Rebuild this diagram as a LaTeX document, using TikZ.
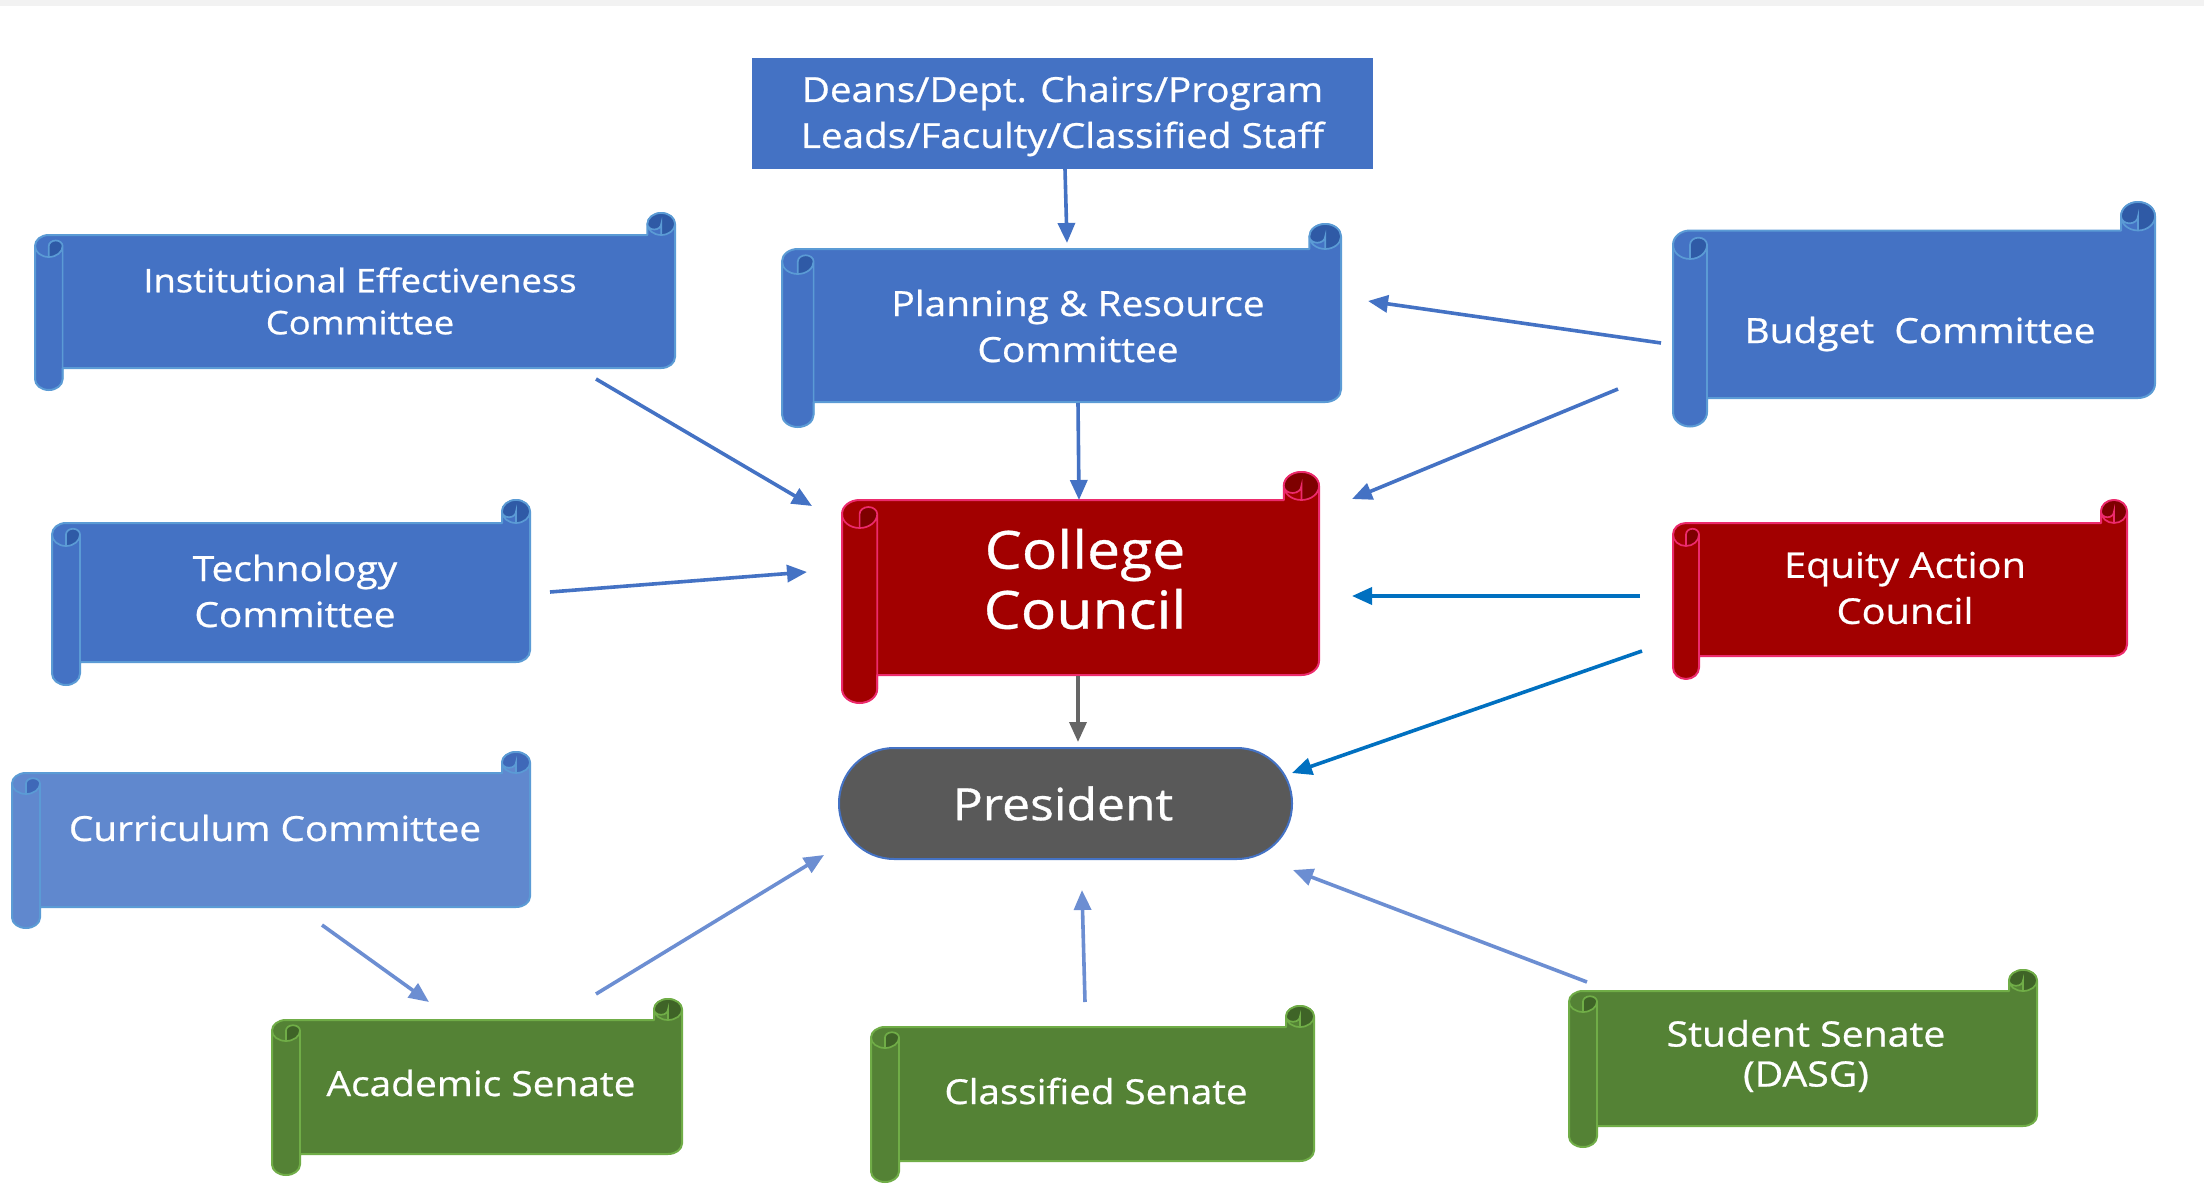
\documentclass[tikz,border=0pt]{standalone}
\usepackage{fontspec}
\setmainfont[FakeStretch=1.12,FakeBold=0.7]{Open Sans}
\usetikzlibrary{arrows.meta}
\definecolor{bf}{HTML}{4472C4}\definecolor{bl}{HTML}{5B9BD5}\definecolor{bd}{HTML}{2F5AA6}
\definecolor{lf}{HTML}{6088CE}\definecolor{ll}{HTML}{5B9BD5}\definecolor{ld}{HTML}{3F68B8}
\definecolor{rf}{HTML}{A20000}\definecolor{rl}{HTML}{EC2A6C}\definecolor{rd}{HTML}{7E0000}
\definecolor{gf}{HTML}{548235}\definecolor{gl}{HTML}{70AD47}\definecolor{gd}{HTML}{3F6427}
\definecolor{ar}{HTML}{4472C4}\definecolor{arb}{HTML}{0070C0}\definecolor{arl}{HTML}{6C8ED2}\definecolor{arg}{HTML}{666666}
\tikzset{
  lbl/.style={text=white,align=center,inner sep=0pt},
  link/.style={line width=3.6pt,draw=ar,-{Triangle[length=20pt,width=17pt]}},
  linkb/.style={link,draw=arb},
  linkl/.style={link,draw=arl},
  linkg/.style={link,draw=arg},
}
\newcommand\sz[2]{\fontsize{#1}{#2}\selectfont}
% x0 x1 yc yt yb rx fill line dark
\newcommand\scrollshape[9]{%
  \pgfmathsetmacro\rx{#6}\pgfmathsetmacro\ry{(#4-#3)/2}%
  \pgfmathsetmacro\xa{#1}\pgfmathsetmacro\xb{#1+\rx}\pgfmathsetmacro\xc{#1+2*\rx}%
  \pgfmathsetmacro\xz{#2}\pgfmathsetmacro\xy{#2-\rx}\pgfmathsetmacro\xw{#2-2*\rx}%
  \pgfmathsetmacro\yct{-(#3)-\ry}\pgfmathsetmacro\ytop{-(#4)}\pgfmathsetmacro\ytm{-(#4)-\ry}%
  \pgfmathsetmacro\ytb{-(#4)-2*\ry}\pgfmathsetmacro\ybm{-(#5)}\pgfmathsetmacro\ybu{-(#5)+\ry}%
  \pgfmathsetmacro\ybl{-(#5)-\ry}%
  \pgfmathsetmacro\hrx{\rx/2}\pgfmathsetmacro\hry{\ry/2}%
  \draw[line width=2pt,draw=#8,fill=#7,line join=round]
    (\xa,\ytm) arc[start angle=180,end angle=90,x radius=\rx pt,y radius=\ry pt]
    -- (\xw,\ytop) -- (\xw,\yct)
    arc[start angle=180,end angle=0,x radius=\rx pt,y radius=\ry pt]
    -- (\xz,\ybu) arc[start angle=0,end angle=-90,x radius=\rx pt,y radius=\ry pt]
    -- (\xc,\ybm) -- (\xc,\ybl)
    arc[start angle=0,end angle=-180,x radius=\rx pt,y radius=\ry pt] -- cycle;
  \fill[#9] (\xw,\yct) arc[start angle=180,end angle=0,x radius=\rx pt,y radius=\ry pt]
    arc[start angle=0,end angle=-90,x radius=\rx pt,y radius=\ry pt] -- (\xy,\yct)
    arc[start angle=0,end angle=-180,x radius=\hrx pt,y radius=\hry pt] -- cycle;
  \fill[#9] (\xb,\ytb) -- (\xb,\ytm) arc[start angle=180,end angle=0,x radius=\hrx pt,y radius=\hry pt]
    arc[start angle=0,end angle=-90,x radius=\rx pt,y radius=\ry pt] -- cycle;
  \draw[line width=1.7pt,draw=#8]
    (\xw,\yct) arc[start angle=180,end angle=0,x radius=\rx pt,y radius=\ry pt]
    arc[start angle=0,end angle=-180,x radius=\rx pt,y radius=\ry pt]
    (\xy,\ytop) -- (\xy,\yct) arc[start angle=0,end angle=-180,x radius=\hrx pt,y radius=\hry pt]
    (\xa,\ytm) arc[start angle=180,end angle=360,x radius=\rx pt,y radius=\ry pt]
    arc[start angle=0,end angle=180,x radius=\hrx pt,y radius=\hry pt] -- (\xb,\ytb)
    (\xc,\ytm) -- (\xc,\ybl);
}
\begin{document}
\begin{tikzpicture}[x=1pt,y=1pt]
\useasboundingbox (0,0) rectangle (2204,-1199);
\fill[white] (0,0) rectangle (2204,-1199);
\fill[black!5] (0,0) rectangle (2204,-6);
\scrollshape{35}{675}{213}{235}{368}{13.8}{bf}{bl}{bd}
\scrollshape{782}{1341}{224}{249}{402}{15.8}{bf}{bl}{bd}
\scrollshape{1673}{2155}{202}{230.5}{398}{17}{bf}{bl}{bd}
\scrollshape{52}{530}{500}{523}{662}{14}{bf}{bl}{bd}
\scrollshape{842}{1319}{472}{500}{675}{17.6}{rf}{rl}{rd}
\scrollshape{1673}{2127}{500}{523}{656}{13}{rf}{rl}{rd}
\scrollshape{12}{530}{752}{773}{907}{14}{lf}{ll}{ld}
\scrollshape{272}{682}{999}{1020}{1154}{14}{gf}{gl}{gd}
\scrollshape{871}{1314}{1006}{1027}{1161}{14}{gf}{gl}{gd}
\scrollshape{1569}{2037}{970}{991}{1126}{14}{gf}{gl}{gd}
\node[lbl,fill=bf,minimum width=621pt,minimum height=111pt] (deans) at (1062.5,-113.5) {};
\node[lbl,font=\sz{34.5}{46}] at (1062.5,-116) {Deans/Dept. Chairs/Program\\Leads/Faculty/Classified Staff};
\node[lbl,font=\sz{32.5}{42}] (ie) at (360,-301) {Institutional Effectiveness\\Committee};
\node[lbl,font=\sz{34.7}{46}] (plan) at (1078,-326) {Planning \& Resource\\Committee};
\node[lbl,font=\sz{34.7}{46}] (budget) at (1920,-334) {Budget\ \ Committee};
\node[lbl,font=\sz{34.7}{46}] (tech) at (295,-591) {Technology\\Committee};
\node[lbl,font=\sz{52.5}{60}] (college) at (1085,-579) {College\\Council};
\node[lbl,font=\sz{35.5}{46}] (equity) at (1905,-588) {Equity Action\\Council};
\node[lbl,draw=bf,line width=2pt,fill=black!65,rounded corners=55pt,minimum width=453pt,minimum height=111pt] (pres) at (1065.5,-803.5) {};
\node[lbl,font=\sz{44.5}{50}] at (1063,-803.5) {President};
\node[lbl,font=\sz{34.6}{46}] (curr) at (275,-828) {Curriculum Committee};
\node[lbl,font=\sz{34.7}{46}] (acad) at (481,-1083) {Academic Senate};
\node[lbl,font=\sz{34.4}{46}] (class) at (1096,-1091) {Classified Senate};
\node[lbl,font=\sz{35}{40}] (student) at (1806,-1056) {Student Senate\\(DASG)};
\draw[link] ([shift={(2.5,-55.5)}]deans.center) -- ([shift={(-11,83)}]plan.center);
\draw[link] ([shift={(0,-77)}]plan.center) -- ([shift={(-6,79)}]college.center);
\draw[link] ([shift={(-259,-9)}]budget.center) -- ([shift={(290,25)}]plan.center);
\draw[link] ([shift={(-302,-55)}]budget.center) -- ([shift={(267,80)}]college.center);
\draw[link] ([shift={(236,-78)}]ie.center) -- ([shift={(-273,73)}]college.center);
\draw[link] ([shift={(255,-1)}]tech.center) -- ([shift={(-278,7)}]college.center);
\draw[linkb] ([shift={(-265,-8)}]equity.center) -- ([shift={(267,-17)}]college.center);
\draw[linkb] ([shift={(-263,-63)}]equity.center) -- ([shift={(226.5,30.5)}]pres.center);
\draw[linkg] ([shift={(-7,-97)}]college.center) -- ([shift={(12.5,61.5)}]pres.center);
\draw[linkl] ([shift={(115,89)}]acad.center) -- ([shift={(-241.5,-51.5)}]pres.center);
\draw[linkl] ([shift={(-11,89)}]class.center) -- ([shift={(16.5,-86.5)}]pres.center);
\draw[linkl] ([shift={(-219,74)}]student.center) -- ([shift={(227.5,-66.5)}]pres.center);
\draw[linkl] ([shift={(47,-97)}]curr.center) -- ([shift={(-52,81)}]acad.center);
\end{tikzpicture}
\end{document}
